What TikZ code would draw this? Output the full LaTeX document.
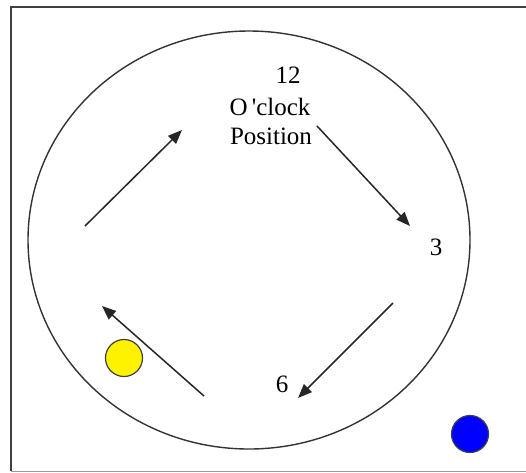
\documentclass[tikz,border=0pt]{standalone}
\usepackage{fontspec}
\setmainfont{Liberation Serif}
\usetikzlibrary{arrows.meta, positioning}

\begin{document}
\begin{tikzpicture}[
    x=1pt, y=-1pt,
    label/.style   = {inner sep=0pt, font=\fontsize{25}{29}\selectfont},
    ball/.style    = {circle, draw=black!75, line width=1.2pt, minimum size=37pt, inner sep=0pt},
    move/.style    = {-{Triangle[length=14pt, width=11pt]}, line width=1.5pt, black!85},
]
\useasboundingbox (0,0) rectangle (526,472);

% frame (cut on the right)
\draw[black!75, line width=1.8pt] (11,471) -- (11,7) -- (527,7);
\draw[black!40, line width=1pt] (11,471) -- (527,471);

% track
\draw[black!80, line width=1.4pt] (249,240) ellipse (221pt and 209pt);

% clock labels
\node[label] (twelve)   at (288,75)  {12};
\node[label] (oclock)   at (270,107) {O\,\textquotesingle clock};
\node[label] (position) at (271,136) {Position};
\node[label] (three)    at (436,247) {3};
\node[label] (six)      at (282,384) {6};

% balls
\node[ball, fill=yellow] (yball) at (124,358) {};
\node[ball, fill=blue]   (bball) at (470,434) {};

% arrow ends
\coordinate (a1) at (85,226);  \coordinate (b1) at (182,130);
\coordinate (a2) at (317,126); \coordinate (b2) at (410,226);
\coordinate (a3) at (393,303); \coordinate (b3) at (298,398);
\coordinate (a4) at (204,396); \coordinate (b4) at (102,306);

\draw[move] (a1) -- (b1);
\draw[move] (a2) -- (b2);
\draw[move] (a3) -- (b3);
\draw[move] (a4) -- (b4);

\end{tikzpicture}
\end{document}
